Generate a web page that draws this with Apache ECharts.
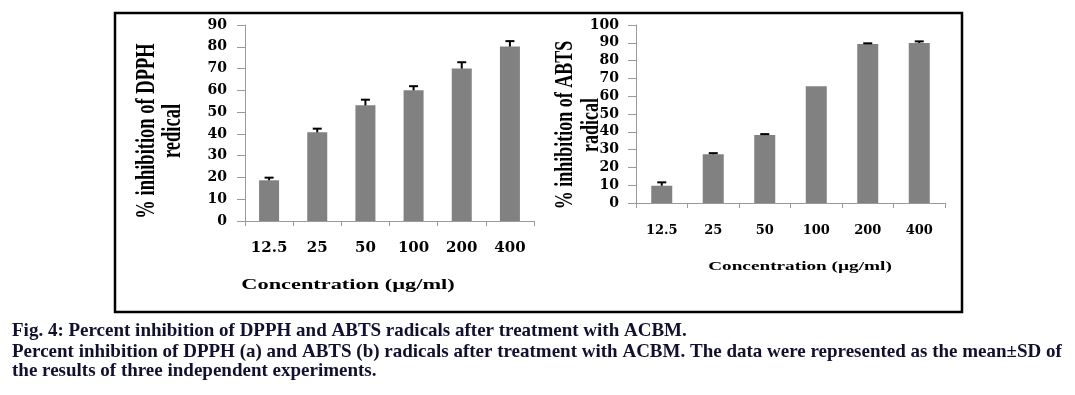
<!DOCTYPE html>
<html>
<head>
<meta charset="utf-8">
<script src="https://cdn.jsdelivr.net/npm/echarts@6/dist/echarts.min.js"></script>
<style>
html,body{margin:0;padding:0;background:#fff;}
#c{width:1075px;height:395px;}
</style>
</head>
<body>
<div id="c"></div>
<script>
// ---- data ----
const categories = ['12.5', '25', '50', '100', '200', '400'];
const dpphValues = [18.7, 40.7, 53.1, 60.0, 70.0, 80.1];
const dpphErrors = [1.2, 1.7, 2.6, 1.9, 2.9, 2.5];
const abtsValues = [9.7, 27.4, 38.2, 65.6, 89.3, 89.9];
const abtsErrors = [1.9, 0.6, 0.5, 0, 0.4, 0.9];
const dpphTicks = { min: 0, max: 90, interval: 10 };
const abtsTicks = { min: 0, max: 100, interval: 10 };
const xName = 'Concentration (µg/ml)';
const dpphYName = '% inhibition of DPPH\nredical';
const abtsYName = '% inhibition of ABTS\nradical';
const captionLines = [
  'Fig. 4: Percent inhibition of DPPH and ABTS radicals after treatment with ACBM.',
  'Percent inhibition of DPPH (a) and ABTS (b) radicals after treatment with ACBM. The data were represented as the mean±SD of',
  'the results of three independent experiments.'
];

const chart = echarts.init(document.getElementById('c'), null, { renderer: 'canvas' });
const axisColor = '#9a9a9a';
const barColor = '#818181';
const labelFont = 'DejaVu Serif';
const serif = '"Liberation Serif", "Times New Roman", serif';

function errRender(params, api) {
  const e = api.value(2);
  if (!e) return null;
  const x = api.value(0), v = api.value(1);
  const top = api.coord([x, v + e]);
  const base = api.coord([x, v]);
  return {
    type: 'group',
    children: [
      { type: 'line', shape: { x1: top[0], y1: top[1], x2: base[0], y2: base[1] }, style: { stroke: '#000', lineWidth: 2 } },
      { type: 'line', shape: { x1: top[0] - 4.5, y1: top[1], x2: top[0] + 4.5, y2: top[1] }, style: { stroke: '#000', lineWidth: 2 } }
    ]
  };
}

function xAxisCfg(gi, fs, margin) {
  return {
    type: 'category', gridIndex: gi, data: categories,
    axisLine: { lineStyle: { color: axisColor, width: 1 } },
    axisTick: { show: true, length: 5, lineStyle: { color: axisColor } },
    axisLabel: { color: '#000', fontFamily: labelFont, fontWeight: 'bold', fontSize: fs, margin: margin },
    splitLine: { show: false }
  };
}
function yAxisCfg(gi, t, margin) {
  return {
    type: 'value', gridIndex: gi, min: t.min, max: t.max, interval: t.interval,
    axisLine: { show: true, lineStyle: { color: axisColor, width: 1 } },
    axisTick: { show: true, length: 8, lineStyle: { color: axisColor } },
    axisLabel: { color: '#000', fontFamily: labelFont, fontWeight: 'bold', fontSize: 14, margin: margin },
    splitLine: { show: false }
  };
}

const option = {
  backgroundColor: '#fff',
  animation: false,
  grid: [
    { left: 245, top: 25, width: 289, height: 196 },
    { left: 636, top: 25, width: 309, height: 178 }
  ],
  xAxis: [xAxisCfg(0, 15, 20), xAxisCfg(1, 13, 21)],
  yAxis: [yAxisCfg(0, dpphTicks, 18), yAxisCfg(1, abtsTicks, 17)],
  series: [
    { type: 'bar', xAxisIndex: 0, yAxisIndex: 0, data: dpphValues, barWidth: 20, itemStyle: { color: barColor } },
    { type: 'custom', xAxisIndex: 0, yAxisIndex: 0, renderItem: errRender, z: 5,
      data: categories.map((c, i) => [i, dpphValues[i], dpphErrors[i]]) },
    { type: 'bar', xAxisIndex: 1, yAxisIndex: 1, data: abtsValues, barWidth: 21, itemStyle: { color: barColor } },
    { type: 'custom', xAxisIndex: 1, yAxisIndex: 1, renderItem: errRender, z: 5,
      data: categories.map((c, i) => [i, abtsValues[i], abtsErrors[i]]) }
  ],
  graphic: [
    { type: 'rect', shape: { x: 115, y: 13, width: 847, height: 299 }, style: { fill: 'none', stroke: '#000', lineWidth: 2.5 }, silent: true },
    { type: 'text', x: 160, y: 131, rotation: Math.PI / 2, scaleY: 1.45,
      style: { text: dpphYName, font: 'bold 18.5px ' + serif, fill: '#000', textAlign: 'center', textVerticalAlign: 'middle', lineHeight: 18 } },
    { type: 'text', x: 578.5, y: 125, rotation: Math.PI / 2, scaleY: 1.45,
      style: { text: abtsYName, font: 'bold 18px ' + serif, fill: '#000', textAlign: 'center', textVerticalAlign: 'middle', lineHeight: 18 } },
    { type: 'text', x: 348, y: 285, scaleX: 1.49,
      style: { text: xName, font: 'bold 15px ' + serif, fill: '#000', textAlign: 'center', textVerticalAlign: 'middle' } },
    { type: 'text', x: 800, y: 267, scaleX: 1.48,
      style: { text: xName, font: 'bold 13px ' + serif, fill: '#000', textAlign: 'center', textVerticalAlign: 'middle' } },
    { type: 'text', x: 12, y: 331.5, style: { text: captionLines[0], font: 'bold 19px ' + serif, fill: '#101030', textAlign: 'left', textVerticalAlign: 'middle' } },
    { type: 'text', x: 12, y: 352, style: { text: captionLines[1], font: 'bold 19px ' + serif, fill: '#101030', textAlign: 'left', textVerticalAlign: 'middle' } },
    { type: 'text', x: 12, y: 371.5, style: { text: captionLines[2], font: 'bold 19px ' + serif, fill: '#101030', textAlign: 'left', textVerticalAlign: 'middle' } }
  ]
};
chart.setOption(option);
</script>
</body>
</html>
